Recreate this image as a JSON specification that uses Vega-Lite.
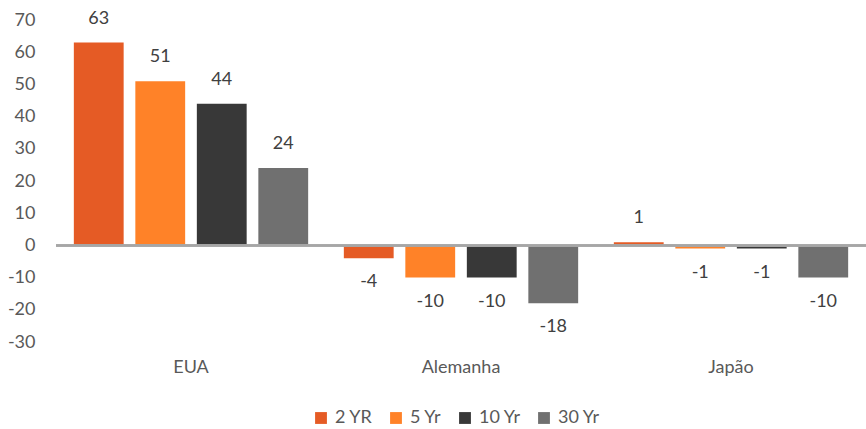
{
  "$schema": "https://vega.github.io/schema/vega-lite/v6.json",
  "width": 810,
  "height": 322,
  "autosize": {"type": "none"},
  "padding": {"left": 56, "top": 20, "right": 0, "bottom": 87},
  "background": "white",
  "config": {
    "font": "Lato",
    "view": {"stroke": null},
    "axis": {"grid": false, "domain": false, "ticks": false, "labelFont": "Lato", "labelFontSize": 18, "labelColor": "#595959"},
    "axisY": {"labelOverlap": false, "labelPadding": 21, "tickCount": 20, "values": [-30, -20, -10, 0, 10, 20, 30, 40, 50, 60, 70], "labelExpr": "datum.value < 0 ? '-' + abs(datum.value) : '' + datum.value"},
    "legend": {"labelFont": "Lato", "labelFontSize": 18, "labelColor": "#595959"}
  },
  "data": {
    "values": [
      {"country": "EUA", "tenor": "2 YR", "v": 63},
      {"country": "EUA", "tenor": "5 Yr", "v": 51},
      {"country": "EUA", "tenor": "10 Yr", "v": 44},
      {"country": "EUA", "tenor": "30 Yr", "v": 24},
      {"country": "Alemanha", "tenor": "2 YR", "v": -4},
      {"country": "Alemanha", "tenor": "5 Yr", "v": -10},
      {"country": "Alemanha", "tenor": "10 Yr", "v": -10},
      {"country": "Alemanha", "tenor": "30 Yr", "v": -18},
      {"country": "Japão", "tenor": "2 YR", "v": 1},
      {"country": "Japão", "tenor": "5 Yr", "v": -1},
      {"country": "Japão", "tenor": "10 Yr", "v": -1},
      {"country": "Japão", "tenor": "30 Yr", "v": -10}
    ]
  },
  "encoding": {
    "x": {
      "field": "country", "type": "nominal", "sort": ["EUA", "Alemanha", "Japão"],
      "scale": {"paddingInner": 0, "paddingOuter": 0},
      "axis": {"title": null, "labelAngle": 0, "labelPadding": 16, "orient": "bottom"}
    },
    "xOffset": {
      "field": "tenor", "type": "nominal", "sort": ["2 YR", "5 Yr", "10 Yr", "30 Yr"],
      "scale": {"paddingInner": 0.19, "paddingOuter": 0.29}
    }
  },
  "layer": [
    {
      "mark": {"type": "bar"},
      "encoding": {
        "y": {
          "field": "v", "type": "quantitative",
          "scale": {"domain": [-30, 70], "nice": false},
          "axis": {
            "title": null, "values": [-30, -20, -10, 0, 10, 20, 30, 40, 50, 60, 70],
            "tickCount": 20, "labelPadding": 21, "labelOverlap": false,
            "labelExpr": "datum.value < 0 ? '-' + abs(datum.value) : '' + datum.value"
          }
        },
        "color": {
          "field": "tenor", "type": "nominal", "sort": ["2 YR", "5 Yr", "10 Yr", "30 Yr"],
          "scale": {"domain": ["2 YR", "5 Yr", "10 Yr", "30 Yr"], "range": ["#E55B25", "#FF8228", "#383838", "#707070"]},
          "legend": {
            "title": null, "orient": "none", "direction": "horizontal",
            "legendX": 256, "legendY": 389,
            "symbolType": "square", "symbolSize": 140, "symbolStrokeWidth": 0,
            "columnPadding": 14, "labelOffset": 5
          }
        }
      }
    },
    {
      "mark": {"type": "rule", "color": "#A6A6A6", "strokeWidth": 1.5},
      "encoding": {"y": {"datum": 0, "type": "quantitative"}, "x": {"value": 0}, "x2": {"value": 810}, "xOffset": {"value": 0}}
    },
    {
      "transform": [{"filter": "datum.v >= 0"}],
      "mark": {"type": "text", "baseline": "middle", "dy": -24, "fontSize": 18, "color": "#404040", "font": "Lato"},
      "encoding": {"y": {"field": "v", "type": "quantitative"}, "text": {"field": "v", "type": "nominal"}}
    },
    {
      "transform": [{"filter": "datum.v < 0"}],
      "mark": {"type": "text", "baseline": "middle", "dy": 24, "fontSize": 18, "color": "#404040", "font": "Lato"},
      "encoding": {"y": {"field": "v", "type": "quantitative"}, "text": {"field": "v", "type": "nominal"}}
    }
  ]
}
